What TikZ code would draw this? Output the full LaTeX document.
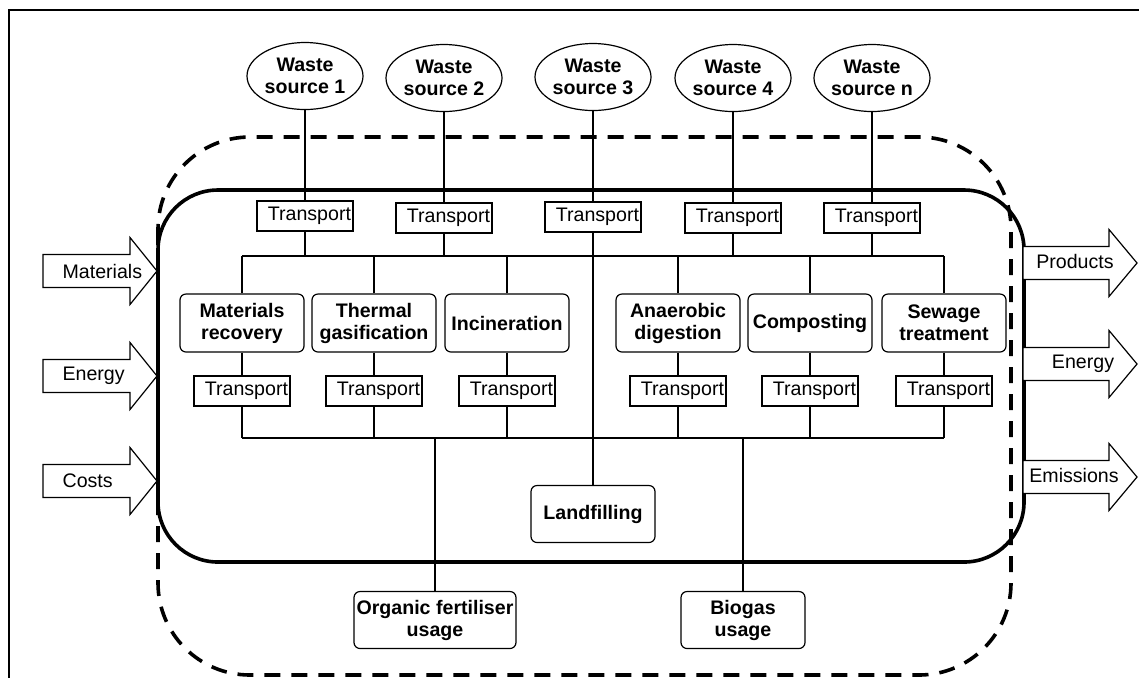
\documentclass[tikz,border=0pt]{standalone}
\usepackage{fontspec}
\setmainfont{Liberation Sans}
\usepackage{tikz}
\usetikzlibrary{shapes.geometric}

\begin{document}
\begin{tikzpicture}[x=0.5pt,y=-0.5pt,node distance=70pt,line width=0.6pt,
			source node/.style={ellipse,draw,minimum width=58pt,minimum height=33.5pt,
				inner sep=0pt,align=center,font=\fontsize{9.8}{11}\selectfont\bfseries},
			transport node/.style={rectangle,draw,text width=46pt,align=right,
				inner xsep=1pt,inner ysep=0pt,minimum height=15pt,font=\fontsize{9.8}{11}\selectfont},
			process node/.style={rectangle,rounded corners=3pt,draw,minimum width=62pt,
				minimum height=29pt,inner sep=1pt,align=center,font=\fontsize{9.8}{11}\selectfont\bfseries},
			flow label/.style={inner sep=0pt,font=\fontsize{9.8}{11}\selectfont},
			block arrow/.style={draw,fill=white,line width=0.6pt,line join=miter},
			system/.style={line width=1.8pt,rounded corners=30pt},
			chain/.style={line width=1.8pt,rounded corners=46pt,dash pattern=on 8pt off 5.5pt}]
			
			\useasboundingbox (0,0) rectangle (1139,677);
			\draw[line width=1pt] (8.7,10) rectangle (1160,700);
			\draw[chain] (158,137) rectangle (1011,675);
			\draw[system] (158,190) rectangle (1024,562);
			
			\node[source node] (W1) at (305,76) {Waste\\source 1};
			\node[source node] (W2) at (444,78) {Waste\\source 2};
			\node[source node] (W3) at (593,77) {Waste\\source 3};
			\node[source node] (W4) at (733,78) {Waste\\source 4};
			\node[source node] (W5) at (872,78) {Waste\\source n};
			\node[transport node] (T1) [below of=W1] {Transport};
			\node[transport node] (T2) [below of=W2] {Transport};
			\node[transport node] (T3) [below of=W3] {Transport};
			\node[transport node] (T4) [below of=W4] {Transport};
			\node[transport node] (T5) [below of=W5] {Transport};
			\node[process node] (P1) at (242,323) {Materials\\recovery};
			\node[process node] (P2) at (374,323) {Thermal\\gasification};
			\node[process node] (P3) at (507,323) {Incineration};
			\node[process node] (P4) at (678,323) {Anaerobic\\digestion};
			\node[process node] (P5) at (810,323) {Composting};
			\node[process node] (P6) at (944,323) {Sewage\\treatment};
			\node[transport node,node distance=34pt] (L1) [below of=P1] {Transport};
			\node[transport node,node distance=34pt] (L2) [below of=P2] {Transport};
			\node[transport node,node distance=34pt] (L3) [below of=P3] {Transport};
			\node[transport node,node distance=34pt] (L4) [below of=P4] {Transport};
			\node[transport node,node distance=34pt] (L5) [below of=P5] {Transport};
			\node[transport node,node distance=34pt] (L6) [below of=P6] {Transport};
			\node[process node,minimum height=28.5pt] (LF) at (593,514) {Landfilling};
			\node[process node,minimum width=81pt,minimum height=28.5pt] (OF) at (435,620) {Organic fertiliser\\usage};
			\node[process node,minimum height=28.5pt] (BG) at (743,620) {Biogas\\usage};
			\coordinate (UB) at (0,256);
			\coordinate (LB) at (0,438);
			
			\path
			(W1) edge (T1)
			(W2) edge (T2)
			(W3) edge (T3)
			(W4) edge (T4)
			(W5) edge (T5)
			(T3) edge (LF)
			(T1.south) edge (T1.south |- UB)
			(T2.south) edge (T2.south |- UB)
			(T4.south) edge (T4.south |- UB)
			(T5.south) edge (T5.south |- UB)
			(P1.north |- UB) edge (P6.north |- UB)
			(P1.north) edge (P1.north |- UB)
			(P2.north) edge (P2.north |- UB)
			(P3.north) edge (P3.north |- UB)
			(P4.north) edge (P4.north |- UB)
			(P5.north) edge (P5.north |- UB)
			(P6.north) edge (P6.north |- UB)
			(P1) edge (L1)
			(P2) edge (L2)
			(P3) edge (L3)
			(P4) edge (L4)
			(P5) edge (L5)
			(P6) edge (L6)
			(L1.south) edge (L1.south |- LB)
			(L2.south) edge (L2.south |- LB)
			(L3.south) edge (L3.south |- LB)
			(L4.south) edge (L4.south |- LB)
			(L5.south) edge (L5.south |- LB)
			(L6.south) edge (L6.south |- LB)
			(L1.south |- LB) edge (L6.south |- LB)
			(OF.north) edge (OF.north |- LB)
			(BG.north) edge (BG.north |- LB);
			
			\coordinate (MI) at (157,271);
			\coordinate (EI) at (157,376);
			\coordinate (CI) at (157,481);
			\coordinate (PO) at (1137,263);
			\coordinate (EO) at (1137,364);
			\coordinate (XO) at (1137,477);
			\draw[block arrow] (MI) -- ++(-27,-33.5) -- ++(0,17) -- ++(-87,0) -- ++(0,33) -- ++(87,0) -- ++(0,17) -- cycle;
			\draw[block arrow] (EI) -- ++(-27,-33.5) -- ++(0,17) -- ++(-87,0) -- ++(0,33) -- ++(87,0) -- ++(0,17) -- cycle;
			\draw[block arrow] (CI) -- ++(-27,-33.5) -- ++(0,17) -- ++(-87,0) -- ++(0,33) -- ++(87,0) -- ++(0,17) -- cycle;
			\draw[block arrow] (PO) -- ++(-28,-33.5) -- ++(0,17) -- ++(-86,0) -- ++(0,33) -- ++(86,0) -- ++(0,17) -- cycle;
			\draw[block arrow] (EO) -- ++(-28,-33.5) -- ++(0,17) -- ++(-86,0) -- ++(0,33) -- ++(86,0) -- ++(0,17) -- cycle;
			\draw[block arrow] (XO) -- ++(-28,-33.5) -- ++(0,17) -- ++(-86,0) -- ++(0,33) -- ++(86,0) -- ++(0,17) -- cycle;
			\node[flow label,anchor=west] (M) at (62,271) {Materials};
			\node[flow label,anchor=west] (E) at (62,376) {Energy};
			\node[flow label,anchor=west] (C) at (62,481) {Costs};
			\node[flow label] (P) at (1075,261) {Products};
			\node[flow label] (N) at (1083,364) {Energy};
			\node[flow label] (X) at (1074,475) {Emissions};
		\end{tikzpicture}
\end{document}
